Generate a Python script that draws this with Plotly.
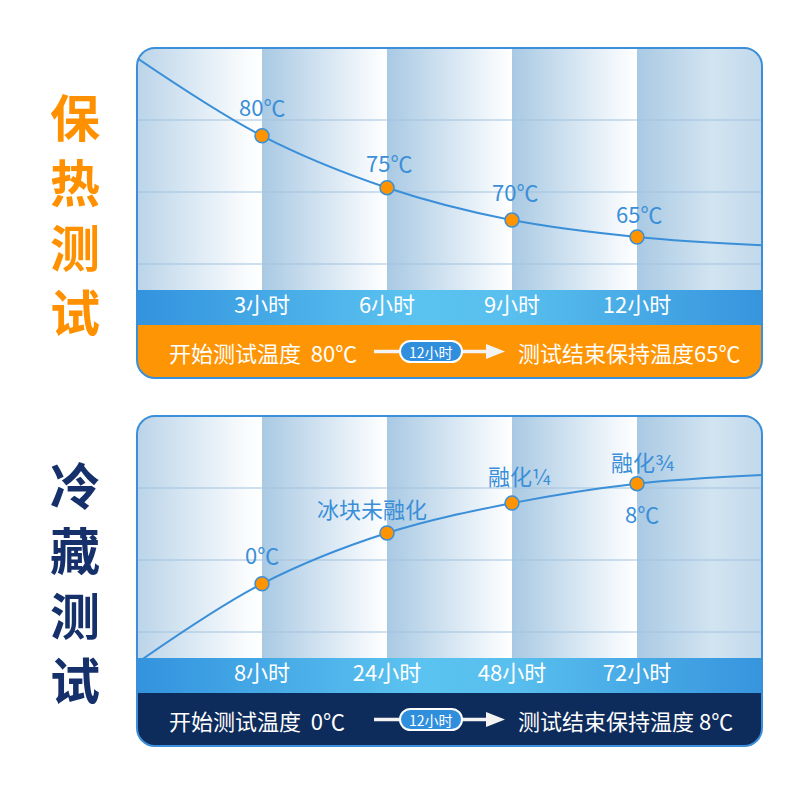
import plotly.graph_objects as go

W = H = 800
FONT = "Noto Sans CJK SC, Noto Sans, sans-serif"

# x positions on the chart, one unit = one stripe
STEPS = [0, 1, 2, 3, 4, 5]
MARKED = [1, 2, 3, 4]

# 保热测试 (curve level in grid units)
HOT_TICKS = ["3小时", "6小时", "9小时", "12小时"]
HOT_CURVE = [3.86, 2.78, 2.06, 1.61, 1.375, 1.26]
HOT_LABELS = ["80℃", "75℃", "70℃", "65℃"]
HOT_START = "开始测试温度  80℃"
HOT_END = "测试结束保持温度65℃"

# 冷藏测试
COLD_TICKS = ["8小时", "24小时", "48小时", "72小时"]
COLD_CURVE = [0.57, 1.67, 2.375, 2.79, 3.06, 3.18]
COLD_LABELS = ["0℃", "冰块未融化", "融化¼", "融化¾"]
COLD_EXTRA = "8℃"
COLD_START = "开始测试温度  0℃"
COLD_END = "测试结束保持温度 8℃"

GRID = [1, 2, 3]
Y_RANGE = [0.639, 4.0]

# label offsets (px) relative to the dots
HOT_OFFSETS = [(0, 30), (2, 26), (3, 29), (2, 24)]
COLD_OFFSETS = [(0, 30), (-15, 25), (7, 28), (6, 23)]

BLUE = "#3a8fd8"
ORANGE = "#fe9505"
NAVY = "#0e2c5b"

LEFT, RIGHT = 137, 762
RADIUS = 18


def X(px):
    return px / W


def Y(py):
    return 1 - py / H


def rrect(x0, y0, x1, y1, r):
    k = 0.5523 * r
    return " ".join([
        f"M{X(x0 + r)},{Y(y0)}",
        f"L{X(x1 - r)},{Y(y0)}",
        f"C{X(x1 - r + k)},{Y(y0)} {X(x1)},{Y(y0 + r - k)} {X(x1)},{Y(y0 + r)}",
        f"L{X(x1)},{Y(y1 - r)}",
        f"C{X(x1)},{Y(y1 - r + k)} {X(x1 - r + k)},{Y(y1)} {X(x1 - r)},{Y(y1)}",
        f"L{X(x0 + r)},{Y(y1)}",
        f"C{X(x0 + r - k)},{Y(y1)} {X(x0)},{Y(y1 - r + k)} {X(x0)},{Y(y1 - r)}",
        f"L{X(x0)},{Y(y0 + r)}",
        f"C{X(x0)},{Y(y0 + r - k)} {X(x0 + r - k)},{Y(y0)} {X(x0 + r)},{Y(y0)}",
        "Z",
    ])


def corner_mask(cx, cy, sx, sy, r):
    k = 0.5523 * r
    return " ".join([
        f"M{X(cx - sx * 4)},{Y(cy - sy * 4)}",
        f"L{X(cx + sx * r)},{Y(cy - sy * 4)}",
        f"L{X(cx + sx * r)},{Y(cy)}",
        f"C{X(cx + sx * (r - k))},{Y(cy)} {X(cx)},{Y(cy + sy * (r - k))} {X(cx)},{Y(cy + sy * r)}",
        f"L{X(cx - sx * 4)},{Y(cy + sy * r)}",
        "Z",
    ])


def note(x, y, text, size, color, xanchor="center", **kw):
    # paper-positioned text, always anchored on its middle
    annotations.append(dict(x=X(x), y=Y(y), xref="paper", yref="paper", text=text,
                            showarrow=False, xanchor=xanchor, yanchor="middle",
                            font=dict(family=FONT, size=size, color=color), **kw))


fig = go.Figure()
shapes = []
annotations = []


def add_card(n, top, ticks, curve, labels, offsets, band_color, start_txt, end_txt):
    xa, ya = f"x{2 * n - 1 if n > 1 else ''}", f"y{2 * n - 1 if n > 1 else ''}"
    xb, yb = f"x{2 * n}", f"y{2 * n}"
    plot_bottom = top + 242
    band_bottom = top + 277
    bottom = top + 330
    mid = (band_bottom + bottom) / 2

    # stripes
    for i in range(5):
        if i == 0:
            cs = [[0, "#bbd4e9"], [0.85, "#f8fbfd"], [1, "#ffffff"]]
        elif i == 4:
            cs = [[0, "#a9c9e3"], [0.6, "#d2e4f1"], [1, "#c1d9eb"]]
        else:
            cs = [[0, "#a9c9e3"], [0.85, "#f3f8fc"], [1, "#ffffff"]]
        fig.add_trace(go.Scatter(
            x=[STEPS[i], STEPS[i + 1], STEPS[i + 1], STEPS[i], STEPS[i]],
            y=[Y_RANGE[0], Y_RANGE[0], Y_RANGE[1], Y_RANGE[1], Y_RANGE[0]],
            mode="lines", fill="toself", line=dict(width=0),
            fillgradient=dict(type="horizontal", colorscale=cs),
            hoverinfo="skip", showlegend=False, xaxis=xa, yaxis=ya))
    # grid lines
    for g in GRID:
        fig.add_trace(go.Scatter(
            x=[STEPS[0], STEPS[-1]], y=[g, g], mode="lines",
            line=dict(color="#a2c2dd", width=1),
            hoverinfo="skip", showlegend=False, xaxis=xa, yaxis=ya))
    # curve and dots
    fig.add_trace(go.Scatter(
        x=STEPS, y=curve, mode="lines", line=dict(color=BLUE, width=2, shape="spline"),
        hoverinfo="skip", showlegend=False, xaxis=xa, yaxis=ya))
    fig.add_trace(go.Scatter(
        x=MARKED, y=[curve[i] for i in MARKED], mode="markers",
        marker=dict(size=14, color="#ff9400", line=dict(color=BLUE, width=1.5)),
        hoverinfo="skip", showlegend=False, xaxis=xa, yaxis=ya))
    for i, lab, (dx, dy) in zip(MARKED, labels, offsets):
        annotations.append(dict(
            x=i, y=curve[i], xref=xa, yref=ya, text=lab, showarrow=False,
            xanchor="center", yanchor="middle",
            xshift=dx, yshift=dy, font=dict(family=FONT, size=22, color=BLUE)))

    # time band
    fig.add_trace(go.Scatter(
        x=[STEPS[0], STEPS[-1], STEPS[-1], STEPS[0], STEPS[0]], y=[0, 0, 1, 1, 0],
        mode="lines", fill="toself", line=dict(width=0),
        fillgradient=dict(type="horizontal", colorscale=[
            [0, "#3393de"], [0.45, "#5bc3f0"], [0.6, "#58bfee"], [1, "#3795de"]]),
        hoverinfo="skip", showlegend=False, xaxis=xb, yaxis=yb))
    fig.add_trace(go.Scatter(
        x=MARKED, y=[0.5] * len(MARKED), mode="text", text=ticks,
        textposition="middle center",
        textfont=dict(family=FONT, size=22, color="white"),
        hoverinfo="skip", showlegend=False, xaxis=xb, yaxis=yb))

    ax = dict(visible=False, fixedrange=True, range=[STEPS[0], STEPS[-1]],
              domain=[X(LEFT), X(RIGHT)])
    fig.update_layout(**{
        ("xaxis" if n == 1 else f"xaxis{2 * n - 1}"): dict(ax),
        f"xaxis{2 * n}": dict(ax),
        ("yaxis" if n == 1 else f"yaxis{2 * n - 1}"): dict(
            visible=False, fixedrange=True, range=Y_RANGE,
            domain=[Y(plot_bottom), Y(top)]),
        f"yaxis{2 * n}": dict(visible=False, fixedrange=True, range=[0, 1],
                              domain=[Y(band_bottom), Y(plot_bottom)]),
    })

    # bottom band
    shapes.append(dict(type="rect", xref="paper", yref="paper",
                       x0=X(LEFT), x1=X(RIGHT), y0=Y(bottom), y1=Y(band_bottom),
                       fillcolor=band_color, line=dict(width=0), layer="above"))
    # rounded corners
    for cx, cy, sx, sy in [(LEFT, top, 1, 1), (RIGHT, top, -1, 1),
                           (LEFT, bottom, 1, -1), (RIGHT, bottom, -1, -1)]:
        shapes.append(dict(type="path", xref="paper", yref="paper",
                           path=corner_mask(cx, cy, sx, sy, RADIUS),
                           fillcolor="white", line=dict(width=0), layer="above"))
    shapes.append(dict(type="path", xref="paper", yref="paper",
                       path=rrect(LEFT, top, RIGHT, bottom, RADIUS),
                       line=dict(color=BLUE, width=2), layer="above"))
    # arrow with pill
    shapes.append(dict(type="line", xref="paper", yref="paper",
                       x0=X(374), x1=X(490), y0=Y(mid), y1=Y(mid),
                       line=dict(color="#f3f3f3", width=3.5), layer="above"))
    shapes.append(dict(type="path", xref="paper", yref="paper",
                       path=f"M{X(486)},{Y(mid - 7.5)} L{X(505)},{Y(mid)} L{X(486)},{Y(mid + 7.5)} Z",
                       fillcolor="#f3f3f3", line=dict(width=0), layer="above"))
    shapes.append(dict(type="path", xref="paper", yref="paper",
                       path=rrect(400, mid - 10.5, 462, mid + 10.5, 10.5),
                       fillcolor="#2f8fdc", line=dict(color="white", width=2), layer="above"))
    note(431, mid, "12小时", 14, "white")
    note(167, mid, start_txt, 22, "white", xanchor="left")
    note(516, mid, end_txt, 22, "white", xanchor="left")


add_card(1, 48, HOT_TICKS, HOT_CURVE, HOT_LABELS, HOT_OFFSETS, ORANGE, HOT_START, HOT_END)
add_card(2, 416, COLD_TICKS, COLD_CURVE, COLD_LABELS, COLD_OFFSETS, NAVY, COLD_START, COLD_END)

# 8℃ below the last cold dot
annotations.append(dict(x=MARKED[-1], y=COLD_CURVE[MARKED[-1]], xref="x3", yref="y3",
                        text=COLD_EXTRA, showarrow=False, xshift=5, yshift=-29,
                        xanchor="center", yanchor="middle",
                        font=dict(family=FONT, size=22, color=BLUE)))

# side titles, one glyph per line
for title, color, top in [("保热测试", "#ff9100", 48), ("冷藏测试", "#15306a", 416)]:
    note(75, top + 164, "<b>" + "<br>".join(title) + "</b>", 50, color)

fig.update_layout(
    width=W, height=H, margin=dict(l=0, r=0, t=0, b=0),
    paper_bgcolor="white", plot_bgcolor="rgba(0,0,0,0)",
    showlegend=False, shapes=shapes, annotations=annotations,
)

fig.write_html("out.html", config={"displayModeBar": False},
               post_script="document.body.style.margin='0';")
